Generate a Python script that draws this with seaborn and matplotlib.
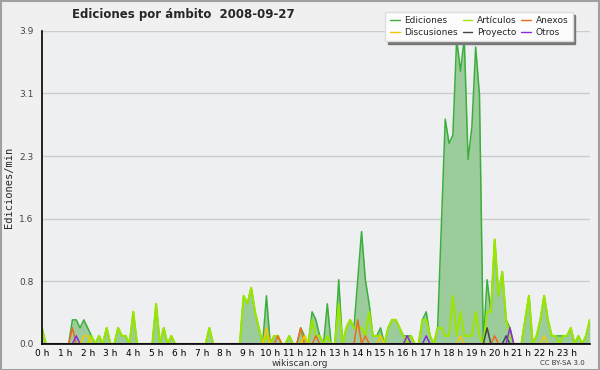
import numpy as np
import pandas as pd
import seaborn as sns
import matplotlib.pyplot as plt
from matplotlib.ticker import FixedLocator, MultipleLocator

# edits per minute, 10-minute bins from 00:00 to 24:00 (one row per hour)
ediciones = [
    0.2, 0, 0, 0, 0, 0,
    0, 0, 0.3, 0.3, 0.2, 0.3,
    0.2, 0.1, 0, 0.1, 0, 0.2,
    0, 0, 0.2, 0.1, 0.1, 0,
    0.4, 0, 0, 0, 0, 0,
    0.5, 0, 0.2, 0, 0.1, 0,
    0, 0, 0, 0, 0, 0,
    0, 0, 0.2, 0, 0, 0,
    0, 0, 0, 0, 0, 0.6,
    0.5, 0.7, 0.4, 0.2, 0, 0.6,
    0, 0.1, 0.1, 0, 0, 0.1,
    0, 0, 0.2, 0.1, 0, 0.4,
    0.3, 0.1, 0, 0.5, 0, 0,
    0.8, 0, 0.2, 0.3, 0.2, 0.8,
    1.4, 0.8, 0.5, 0.1, 0.1, 0.2,
    0, 0.2, 0.3, 0.3, 0.2, 0.1,
    0.1, 0.1, 0, 0, 0.3, 0.4,
    0.1, 0, 0.2, 1.5, 2.8, 2.5,
    2.6, 3.8, 3.4, 3.8, 2.3, 2.7,
    3.7, 3.1, 0, 0.8, 0.4, 1.3,
    0.6, 0.9, 0.3, 0.2, 0, 0,
    0, 0.3, 0.6, 0, 0.1, 0.3,
    0.6, 0.3, 0.1, 0.1, 0.1, 0.1,
    0.1, 0.2, 0, 0.1, 0, 0.1,
    0.3,
]
articulos = [
    0.2, 0, 0, 0, 0, 0,
    0, 0, 0, 0, 0, 0,
    0, 0.1, 0, 0.1, 0, 0.2,
    0, 0, 0.2, 0.1, 0.1, 0,
    0.4, 0, 0, 0, 0, 0,
    0.5, 0, 0.2, 0, 0.1, 0,
    0, 0, 0, 0, 0, 0,
    0, 0, 0.2, 0, 0, 0,
    0, 0, 0, 0, 0, 0.6,
    0.5, 0.7, 0.4, 0.2, 0, 0.1,
    0, 0.1, 0.1, 0, 0, 0.1,
    0, 0, 0, 0.1, 0, 0.3,
    0.1, 0.1, 0, 0.1, 0, 0,
    0.5, 0, 0.2, 0.3, 0.2, 0.2,
    0.2, 0.1, 0.4, 0.1, 0.1, 0.1,
    0, 0.2, 0.3, 0.3, 0.2, 0.1,
    0, 0.1, 0, 0, 0.3, 0.3,
    0.1, 0, 0.2, 0.2, 0.1, 0.1,
    0.6, 0.1, 0.4, 0.1, 0.1, 0.1,
    0.4, 0.1, 0, 0.4, 0.4, 1.3,
    0.6, 0.9, 0.3, 0.1, 0, 0,
    0, 0.3, 0.6, 0, 0.1, 0.3,
    0.6, 0.3, 0.1, 0.1, 0, 0.1,
    0.1, 0.2, 0, 0.1, 0, 0.1,
    0.3,
]
# sparse series: time of bin -> value
anexos_t = ["01:20", "10:20", "11:20", "12:00", "13:50", "14:10", "19:50"]
anexos_v = [0.2, 0.1, 0.2, 0.1, 0.3, 0.1, 0.1]
discusiones_t = ["01:50", "02:00", "09:50", "11:30", "14:50", "18:20", "22:00"]
discusiones_v = [0.1, 0.1, 0.2, 0.1, 0.1, 0.1, 0.1]
proyecto_t = ["19:30", "20:20"]
proyecto_v = [0.2, 0.1]
otros_t = ["01:30", "16:00", "16:50", "20:30"]
otros_v = [0.1, 0.1, 0.1, 0.2]

hours = np.arange(len(ediciones)) / 6.0


def expand(times, vals):
    s = np.zeros(len(ediciones))
    for t, v in zip(times, vals):
        h, m = t.split(":")
        s[int(h) * 6 + int(m) // 10] = v
    return s


df = pd.DataFrame({
    "hora": hours,
    "Ediciones": ediciones,
    "Artículos": articulos,
    "Anexos": expand(anexos_t, anexos_v),
    "Discusiones": expand(discusiones_t, discusiones_v),
    "Proyecto": expand(proyecto_t, proyecto_v),
    "Otros": expand(otros_t, otros_v),
})

colors = {
    "Ediciones": "#3cae3c",
    "Artículos": "#9be600",
    "Anexos": "#f06a1e",
    "Discusiones": "#f7c800",
    "Proyecto": "#454545",
    "Otros": "#8a2be2",
}

sns.set_style("white")
plt.rcParams["font.family"] = ["DejaVu Sans"]

fig = plt.figure(figsize=(6, 3.7), dpi=100, facecolor="#f0f0f0")
ax = fig.add_axes([0.07, 0.0705, 0.913, 0.846])
ax.set_facecolor("#eeeff1")

ax.fill_between(df["hora"], df["Ediciones"], color="#9ccb9c", lw=0, zorder=2)
handles = {}
for name in ["Ediciones", "Artículos", "Anexos", "Discusiones", "Proyecto", "Otros"]:
    lw = 1.5 if name == "Artículos" else 1.1
    sns.lineplot(data=df, x="hora", y=name, ax=ax, color=colors[name],
                 lw=lw, label=name, legend=False, zorder=3)
    handles[name] = ax.lines[-1]

ax.set_xlim(0, 24)
ax.set_ylim(0, 3.9)
yt = np.linspace(0, 3.9, 6)
ax.yaxis.set_major_locator(FixedLocator(yt))
ax.set_yticklabels([f"{v:.1f}" for v in yt])
ax.yaxis.set_minor_locator(FixedLocator(np.linspace(0, 3.9, 16)))
ax.xaxis.set_major_locator(FixedLocator(np.arange(24)))
ax.set_xticklabels([f"{h} h" for h in range(24)])
ax.xaxis.set_minor_locator(MultipleLocator(1 / 6))
ax.grid(axis="y", color="#cccccc", lw=1, zorder=0)
ax.set_axisbelow(True)

for s in ["top", "right"]:
    ax.spines[s].set_visible(False)
for s in ["left", "bottom"]:
    ax.spines[s].set_color("black")
    ax.spines[s].set_linewidth(1.2)
    ax.spines[s].set_zorder(5)

ax.tick_params(axis="x", which="both", direction="out", length=3, width=1,
               labelsize=6.5, pad=0.5, colors="black")
ax.tick_params(axis="y", which="major", direction="out", length=5, width=1,
               labelsize=6.5, pad=1, colors="black", labelcolor="#444444")
ax.tick_params(axis="y", which="minor", direction="out", length=3, width=1)
ax.set_xlabel("")
ax.set_ylabel("Ediciones/min", fontsize=7.5, family="DejaVu Sans Mono", labelpad=4)

fig.text(0.305, 0.962, "Ediciones por ámbito  2008-09-27", ha="center", va="center",
         fontsize=8.5, fontweight="bold")
fig.text(0.5, 0.018, "wikiscan.org", ha="center", va="center", fontsize=6.5, color="#333333")
fig.text(0.975, 0.018, "CC BY-SA 3.0", ha="right", va="center", fontsize=5, color="#333333")

order = ["Ediciones", "Discusiones", "Artículos", "Proyecto", "Anexos", "Otros"]
leg = ax.legend([handles[n] for n in order], order, ncol=3, loc="upper right",
                bbox_to_anchor=(0.962, 0.98), bbox_transform=fig.transFigure,
                fontsize=6.5, handlelength=1.1, handletextpad=0.5, columnspacing=0.5,
                labelspacing=0.25, borderpad=0.5, frameon=True, fancybox=False,
                shadow={"color": "#777777", "alpha": 1})
leg.get_frame().set_facecolor("#fcfcfc")
leg.get_frame().set_edgecolor("#dddddd")
for line in leg.get_lines():
    line.set_linewidth(1)

fig.add_artist(plt.Rectangle((0.001, 0.001), 0.997, 0.997, transform=fig.transFigure,
                             fill=False, edgecolor="#a0a0a0", lw=1.5))

fig.savefig("out.png", dpi=100, facecolor=fig.get_facecolor())
